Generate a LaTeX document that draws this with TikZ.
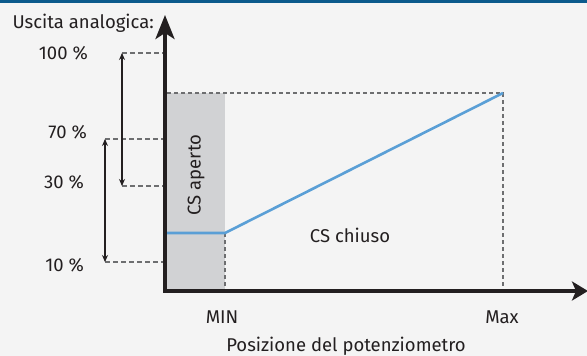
\documentclass[tikz,border=0pt]{standalone}
\usepackage{fontspec}
\setmainfont{Fira Sans}
\usetikzlibrary{arrows.meta}
\definecolor{bg}{HTML}{F4F4F4}
\definecolor{topbar}{HTML}{0B5A8C}
\definecolor{ink}{HTML}{231F20}
\definecolor{guidegray}{HTML}{6D6E70}
\definecolor{boxgray}{HTML}{D1D2D4}
\definecolor{curve}{HTML}{5A9FD6}
\begin{document}
\begin{tikzpicture}[x=1pt,y=-1pt,
  lbl/.style={font=\fontsize{18.5}{21}\selectfont, text=ink, inner sep=0pt},
  guide/.style={draw=guidegray, line width=2pt, dash pattern=on 5pt off 3pt},
  thinguide/.style={draw=guidegray, line width=1.2pt, dash pattern=on 4pt off 3pt},
  axis/.style={draw=ink, line width=3.5pt},
  span/.style={draw=ink, line width=1.1pt, {Stealth[length=7pt,width=6pt]}-{Stealth[length=7pt,width=6pt]}}]
\useasboundingbox (0,0) rectangle (587,356);
\fill[bg] (0,0) rectangle (587,356);
\fill[topbar] (0,0) rectangle (587,3);
% shaded region
\fill[boxgray] (167,93) rectangle (225,289);
% coordinates
\coordinate (o) at (165,291);
\coordinate (ytop) at (165,15);
\coordinate (xend) at (588,291);
\coordinate (pmin) at (225,233);
\coordinate (pmax) at (503,93);
\coordinate (y0) at (167,233);
\coordinate (top0) at (167,93);
\coordinate (minb) at (225,289);
\coordinate (maxb) at (503,289);
% guide lines
\coordinate (a100) at (122,53);  \coordinate (b100) at (163,53);
\coordinate (a30)  at (122,186); \coordinate (b30)  at (163,186);
\coordinate (a70)  at (105,139); \coordinate (b70)  at (163,139);
\coordinate (a10)  at (105,262); \coordinate (b10)  at (163,262);
\path[guide] (a100) -- (b100);
\path[guide] (a30) -- (b30);
\path[guide] (a70) -- (b70);
\path[guide] (a10) -- (b10);
\path[span] (a100) -- (a30);
\path[span] (a70) -- (a10);
\path[thinguide] (top0) -- (pmax) -- (maxb);
\path[thinguide] (pmin) -- (minb);
% curve
\draw[curve, line width=2.6pt] (y0) -- (pmin) -- (pmax);
% axes
\draw[axis, -{Stealth[length=24pt,width=19pt,inset=6pt]}] (165,292.75) -- (ytop);
\draw[axis, -{Stealth[length=16pt,width=19pt,inset=4pt]}] (163.25,291) -- (xend);
% labels
\node[lbl, anchor=east] (yl) at (154,23) {Uscita analogica:};
\node[lbl, anchor=east] (l100) at (88,53) {100 \%};
\node[lbl, anchor=east] (l70) at (87,132) {70 \%};
\node[lbl, anchor=east] (l30) at (84,182) {30 \%};
\node[lbl, anchor=east] (l10) at (84,265) {10 \%};
\node[lbl, rotate=90] (open) at (196,175) {CS aperto};
\node[lbl] (closed) at (350,235) {CS chiuso};
\node[lbl] (min) at (222,317) {MIN};
\node[lbl] (max) at (502,317) {Max};
\node[lbl, anchor=base] (xl) at (346,351) {Posizione del potenziometro};
\end{tikzpicture}
\end{document}
